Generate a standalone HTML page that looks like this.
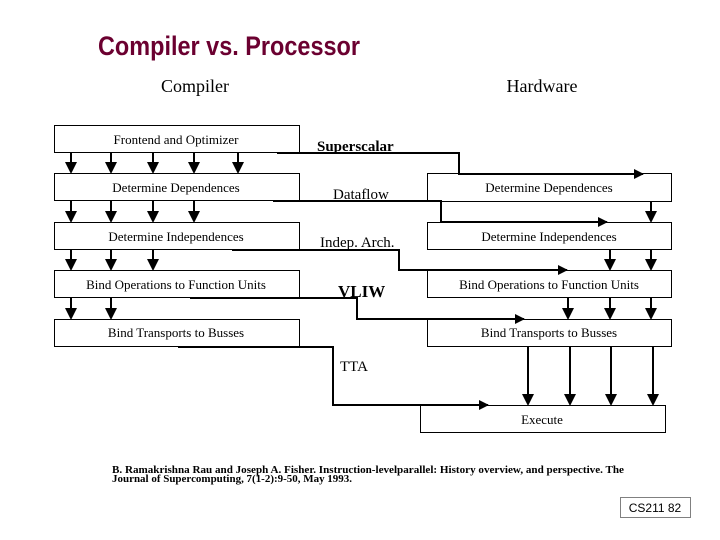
<!DOCTYPE html>
<html><head><meta charset="utf-8"><style>
html,body{margin:0;padding:0;background:#fff;}
svg{display:block;}
</style></head><body>
<svg width="720" height="540" viewBox="0 0 720 540" xmlns="http://www.w3.org/2000/svg">
<defs>
<marker id="a" markerWidth="10" markerHeight="10" refX="9" refY="5" orient="auto" markerUnits="userSpaceOnUse">
<path d="M0,0 L10,5 L0,10 z" fill="#000"/></marker>
<marker id="d" markerWidth="12" markerHeight="12" refX="10" refY="6" orient="auto" markerUnits="userSpaceOnUse">
<path d="M0,0 L12,6 L0,12 z" fill="#000"/></marker>
</defs>
<text x="98" y="55" font-family="Liberation Sans Narrow, Liberation Sans, sans-serif" font-weight="bold" font-size="27" fill="#6b0030" textLength="262" lengthAdjust="spacingAndGlyphs">Compiler vs. Processor</text>
<text x="195" y="92" font-family="Liberation Serif, serif" font-size="18" text-anchor="middle">Compiler</text>
<text x="542" y="92" font-family="Liberation Serif, serif" font-size="18" text-anchor="middle">Hardware</text>
<g fill="#fff" stroke="#000" stroke-width="1">
<rect x="54.5" y="125.5" width="245" height="27"/>
<rect x="54.5" y="173.5" width="245" height="27"/>
<rect x="54.5" y="222.5" width="245" height="27"/>
<rect x="54.5" y="270.5" width="245" height="27"/>
<rect x="54.5" y="319.5" width="245" height="27"/>
<rect x="427.5" y="173.5" width="244" height="28"/>
<rect x="427.5" y="222.5" width="244" height="27"/>
<rect x="427.5" y="270.5" width="244" height="27"/>
<rect x="427.5" y="319.5" width="244" height="27"/>
<rect x="420.5" y="405.5" width="245" height="27"/>
</g>
<g font-family="Liberation Serif, serif" font-size="13" text-anchor="middle">
<text x="176" y="144">Frontend and Optimizer</text>
<text x="176" y="192">Determine Dependences</text>
<text x="176" y="241">Determine Independences</text>
<text x="176" y="289">Bind Operations to Function Units</text>
<text x="176" y="337">Bind Transports to Busses</text>
<text x="549" y="192">Determine Dependences</text>
<text x="549" y="241">Determine Independences</text>
<text x="549" y="289">Bind Operations to Function Units</text>
<text x="549" y="337">Bind Transports to Busses</text>
<text x="542" y="424">Execute</text>
</g>
<g font-family="Liberation Serif, serif" font-size="15">
<text x="317" y="151" font-weight="bold">Superscalar</text>
<text x="333" y="199">Dataflow</text>
<text x="320" y="247">Indep. Arch.</text>
<text x="338" y="297" font-weight="bold" font-size="17">VLIW</text>
<text x="340" y="371">TTA</text>
</g>
<g stroke="#000" stroke-width="2" fill="none" marker-end="url(#d)">
<line x1="71" y1="153" x2="71" y2="172"/><line x1="111" y1="153" x2="111" y2="172"/><line x1="153" y1="153" x2="153" y2="172"/><line x1="194" y1="153" x2="194" y2="172"/><line x1="238" y1="153" x2="238" y2="172"/>
<line x1="71" y1="201" x2="71" y2="221"/><line x1="111" y1="201" x2="111" y2="221"/><line x1="153" y1="201" x2="153" y2="221"/><line x1="194" y1="201" x2="194" y2="221"/>
<line x1="71" y1="250" x2="71" y2="269"/><line x1="111" y1="250" x2="111" y2="269"/><line x1="153" y1="250" x2="153" y2="269"/>
<line x1="71" y1="298" x2="71" y2="318"/><line x1="111" y1="298" x2="111" y2="318"/>
<line x1="651" y1="202" x2="651" y2="221"/>
<line x1="610" y1="250" x2="610" y2="269"/><line x1="651" y1="250" x2="651" y2="269"/>
<line x1="568" y1="298" x2="568" y2="318"/><line x1="610" y1="298" x2="610" y2="318"/><line x1="651" y1="298" x2="651" y2="318"/>
<line x1="528" y1="347" x2="528" y2="404"/><line x1="570" y1="347" x2="570" y2="404"/><line x1="611" y1="347" x2="611" y2="404"/><line x1="653" y1="347" x2="653" y2="404"/>
</g>
<g stroke="#000" stroke-width="2" fill="none" marker-end="url(#a)">
<polyline points="277,153 459,153 459,174 643,174"/>
<polyline points="273,201 441,201 441,222 607,222"/>
<polyline points="232,250 399,250 399,270 567,270"/>
<polyline points="190,298 357,298 357,319 524,319"/>
<polyline points="178,347 333,347 333,405 488,405"/>
</g>
<g font-family="Liberation Serif, serif" font-size="10.5" font-weight="bold">
<text x="112" y="473" textLength="512" lengthAdjust="spacingAndGlyphs">B. Ramakrishna Rau and Joseph A. Fisher. Instruction-levelparallel: History overview, and perspective. The</text>
<text x="112" y="482" textLength="240" lengthAdjust="spacingAndGlyphs">Journal of Supercomputing, 7(1-2):9-50, May 1993.</text>
</g>
<rect x="620.5" y="497.5" width="70" height="20" fill="#fff" stroke="#000" stroke-dasharray="1,1"/>
<text x="655" y="512" font-family="Liberation Sans, sans-serif" font-size="12" text-anchor="middle">CS211  82</text>
</svg>
</body></html>
